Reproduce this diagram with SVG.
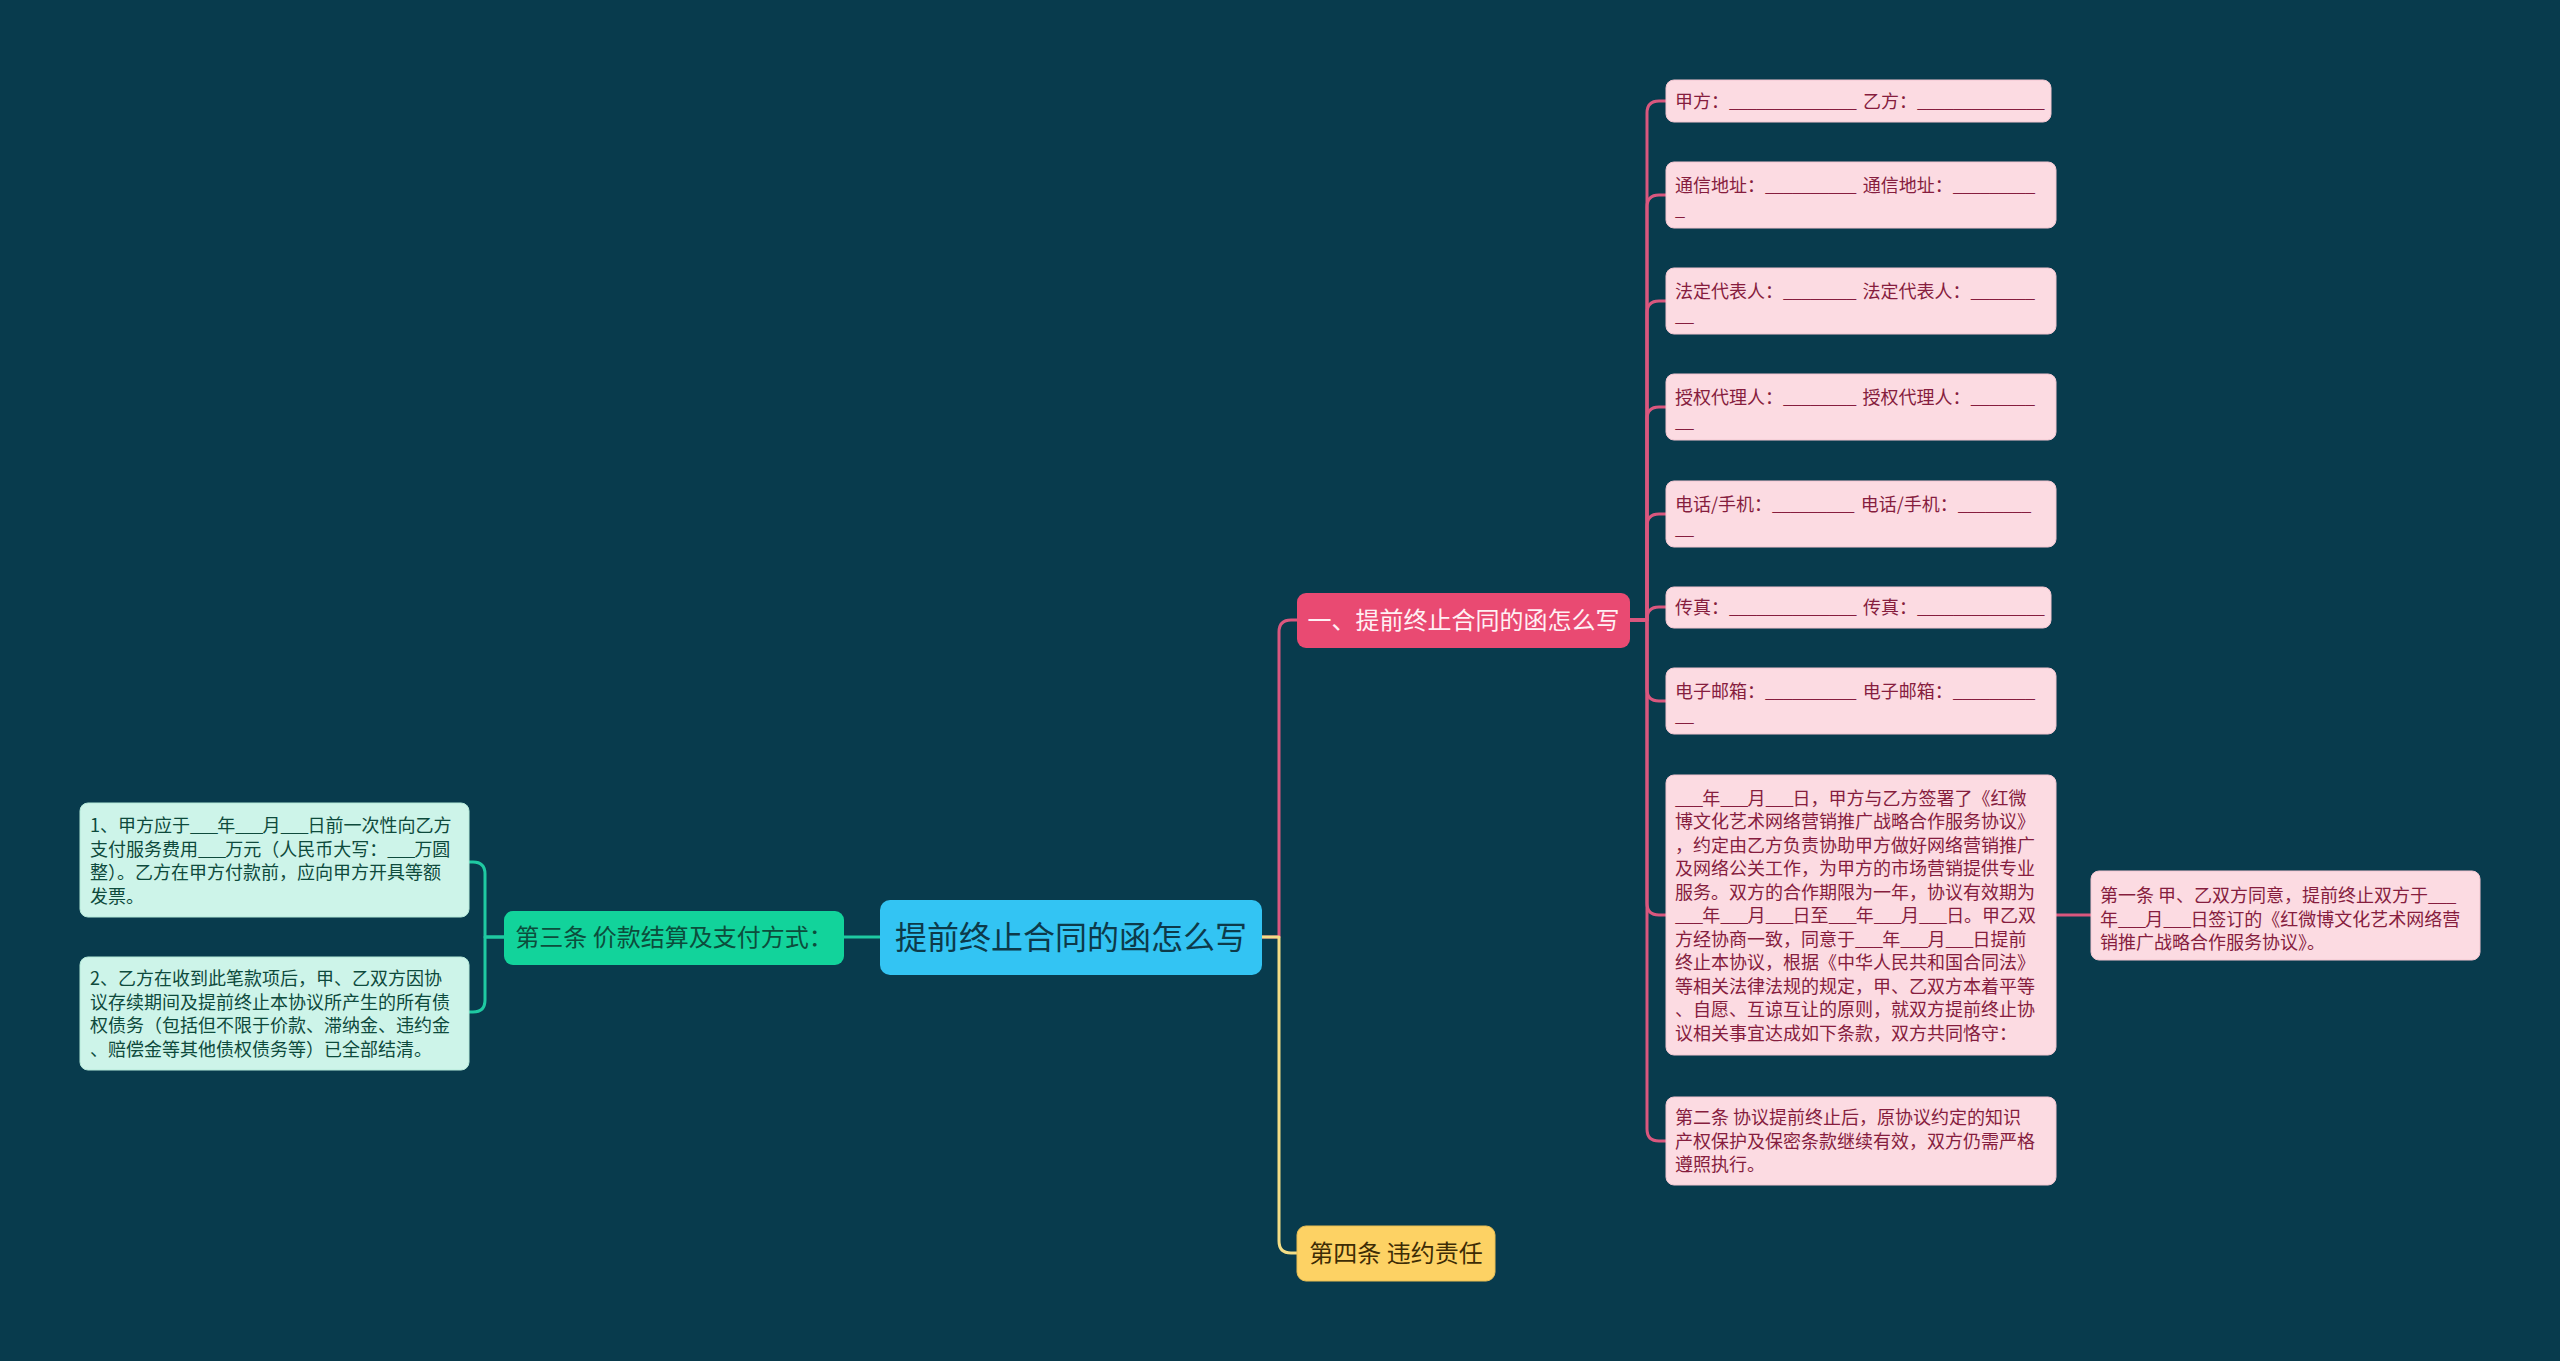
<svg xmlns="http://www.w3.org/2000/svg" width="2560" height="1361" viewBox="0 0 2560 1361">
<style>
text{font-family:"Noto Sans CJK SC","Noto Sans",sans-serif}
.u{letter-spacing:-1px}
.c{fill:none;stroke-width:3;stroke-linecap:round;stroke-linejoin:round}
.pk{stroke:#d9577e}.tl{stroke:#1fc9a2}.yl{stroke:#f3dd86}
.leafP rect{fill:#fcdbe2;stroke:#f3c6d1;stroke-width:1}
.leafP text{fill:#861d3e;font-size:18px}
.leafG rect{fill:#cdf4e9;stroke:#b5ead9;stroke-width:1}
.leafG text{fill:#0e4a3c;font-size:18px}
</style>
<rect width="2560" height="1361" fill="#083b4d"/>
<g id="connectors">
<path class="c pk" d="M1262,937 H1279 V632 Q1279,620 1291,620 H1297"/>
<path class="c yl" d="M1262,937 H1279 V1241 Q1279,1253 1291,1253 H1297"/>
<path class="c tl" d="M880,937 H844"/>
<path class="c tl" d="M504,937 H485 V874 Q485,862 473,862 H469"/>
<path class="c tl" d="M504,937 H485 V1000 Q485,1012 473,1012 H469"/>
<path class="c pk" d="M1630,620 H1647 V113 Q1647,101 1659,101 H1666"/>
<path class="c pk" d="M1630,620 H1647 V207 Q1647,195 1659,195 H1666"/>
<path class="c pk" d="M1630,620 H1647 V313 Q1647,301 1659,301 H1666"/>
<path class="c pk" d="M1630,620 H1647 V419 Q1647,407 1659,407 H1666"/>
<path class="c pk" d="M1630,620 H1647 V526 Q1647,514 1659,514 H1666"/>
<path class="c pk" d="M1630,620 H1647 V619 Q1647,607 1659,607 H1666"/>
<path class="c pk" d="M1630,620 H1647 V689 Q1647,701 1659,701 H1666"/>
<path class="c pk" d="M1630,620 H1647 V903 Q1647,915 1659,915 H1666"/>
<path class="c pk" d="M1630,620 H1647 V1129 Q1647,1141 1659,1141 H1666"/>
<path class="c pk" d="M2056,915 H2091"/>
</g>
<g id="root">
<rect x="880" y="900" width="382" height="75" rx="10" fill="#33c4f3"/>
<text x="1071" y="949" font-size="32" fill="#0d3a4a" text-anchor="middle">提前终止合同的函怎么写</text>
</g>
<g id="n1">
<rect x="1297" y="593" width="333" height="55" rx="9" fill="#e94a72"/>
<text x="1463.5" y="629" font-size="24" fill="#fff0f4" text-anchor="middle">一、提前终止合同的函怎么写</text>
</g>
<g id="n3">
<rect x="504" y="911" width="340" height="54" rx="9" fill="#12d39b"/>
<text x="674" y="946" font-size="24" fill="#0c4d3c" text-anchor="middle">第三条 价款结算及支付方式：</text>
</g>
<g id="n4">
<rect x="1297" y="1226" width="198" height="55" rx="9" fill="#fdd264" stroke="#e8bf55" stroke-width="1"/>
<text x="1396" y="1262" font-size="24" fill="#3d2c05" text-anchor="middle">第四条 违约责任</text>
</g>
<g id="l1" class="leafP"><rect x="1666" y="80" width="385" height="42" rx="8"/><text x="1675" y="108">甲方：<tspan class="u">______________</tspan> <tspan dx="3">乙方：</tspan><tspan class="u">______________</tspan></text></g>
<g id="l2" class="leafP"><rect x="1666" y="162" width="390" height="66" rx="8"/><text x="1675" y="192">通信地址：<tspan class="u">__________</tspan> <tspan dx="3">通信地址：</tspan><tspan class="u">_________</tspan></text><text x="1675" y="215.5">_</text></g>
<g id="l3" class="leafP"><rect x="1666" y="268" width="390" height="66" rx="8"/><text x="1675" y="298">法定代表人：<tspan class="u">________</tspan> <tspan dx="3">法定代表人：</tspan><tspan class="u">_______</tspan></text><text x="1675" y="321.5" class="u">__</text></g>
<g id="l4" class="leafP"><rect x="1666" y="374" width="390" height="66" rx="8"/><text x="1675" y="404">授权代理人：<tspan class="u">________</tspan> <tspan dx="3">授权代理人：</tspan><tspan class="u">_______</tspan></text><text x="1675" y="427.5" class="u">__</text></g>
<g id="l5" class="leafP"><rect x="1666" y="481" width="390" height="66" rx="8"/><text x="1675" y="511">电话/手机：<tspan class="u">_________</tspan> <tspan dx="3">电话/手机：</tspan><tspan class="u">________</tspan></text><text x="1675" y="534.5" class="u">__</text></g>
<g id="l6" class="leafP"><rect x="1666" y="587" width="385" height="41" rx="8"/><text x="1675" y="614">传真：<tspan class="u">______________</tspan> <tspan dx="3">传真：</tspan><tspan class="u">______________</tspan></text></g>
<g id="l7" class="leafP"><rect x="1666" y="668" width="390" height="66" rx="8"/><text x="1675" y="698">电子邮箱：<tspan class="u">__________</tspan> <tspan dx="3">电子邮箱：</tspan><tspan class="u">_________</tspan></text><text x="1675" y="721.5" class="u">__</text></g>
<g id="l8" class="leafP"><rect x="1666" y="775" width="390" height="280" rx="8"/>
<text x="1675" y="804.5"><tspan class="u">___</tspan>年<tspan class="u">___</tspan>月<tspan class="u">___</tspan>日，甲方与乙方签署了《红微</text>
<text x="1675" y="828">博文化艺术网络营销推广战略合作服务协议》</text>
<text x="1675" y="851.5">，约定由乙方负责协助甲方做好网络营销推广</text>
<text x="1675" y="875">及网络公关工作，为甲方的市场营销提供专业</text>
<text x="1675" y="898.5">服务。双方的合作期限为一年，协议有效期为</text>
<text x="1675" y="922"><tspan class="u">___</tspan>年<tspan class="u">___</tspan>月<tspan class="u">___</tspan>日至<tspan class="u">___</tspan>年<tspan class="u">___</tspan>月<tspan class="u">___</tspan>日。甲乙双</text>
<text x="1675" y="945.5">方经协商一致，同意于<tspan class="u">___</tspan>年<tspan class="u">___</tspan>月<tspan class="u">___</tspan>日提前</text>
<text x="1675" y="969">终止本协议，根据《中华人民共和国合同法》</text>
<text x="1675" y="992.5">等相关法律法规的规定，甲、乙双方本着平等</text>
<text x="1675" y="1016">、自愿、互谅互让的原则，就双方提前终止协</text>
<text x="1675" y="1039.5">议相关事宜达成如下条款，双方共同恪守：</text>
</g>
<g id="l9" class="leafP"><rect x="1666" y="1097" width="390" height="88" rx="8"/>
<text x="1675" y="1124">第二条 协议提前终止后，原协议约定的知识</text>
<text x="1675" y="1147.5">产权保护及保密条款继续有效，双方仍需严格</text>
<text x="1675" y="1171">遵照执行。</text>
</g>
<g id="l10" class="leafP"><rect x="2091" y="871" width="389" height="89" rx="8"/>
<text x="2100" y="902">第一条 甲、乙双方同意，提前终止双方于<tspan class="u">___</tspan></text>
<text x="2100" y="925.5">年<tspan class="u">___</tspan>月<tspan class="u">___</tspan>日签订的《红微博文化艺术网络营</text>
<text x="2100" y="949">销推广战略合作服务协议》。</text>
</g>
<g id="lA" class="leafG"><rect x="80" y="803" width="389" height="114" rx="8"/>
<text x="90" y="832">1、甲方应于<tspan class="u">___</tspan>年<tspan class="u">___</tspan>月<tspan class="u">___</tspan>日前一次性向乙方</text>
<text x="90" y="855.5">支付服务费用<tspan class="u">___</tspan>万元（人民币大写：<tspan class="u">___</tspan>万圆</text>
<text x="90" y="879">整）。乙方在甲方付款前，应向甲方开具等额</text>
<text x="90" y="902.5">发票。</text>
</g>
<g id="lB" class="leafG"><rect x="80" y="957" width="389" height="113" rx="8"/>
<text x="90" y="985">2、乙方在收到此笔款项后，甲、乙双方因协</text>
<text x="90" y="1008.5">议存续期间及提前终止本协议所产生的所有债</text>
<text x="90" y="1032">权债务（包括但不限于价款、滞纳金、违约金</text>
<text x="90" y="1055.5">、赔偿金等其他债权债务等）已全部结清。</text>
</g>
</svg>
